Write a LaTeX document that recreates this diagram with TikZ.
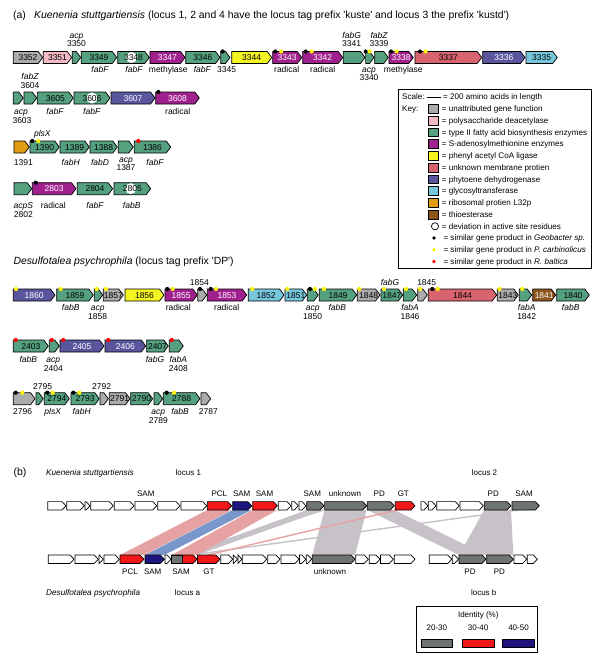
\documentclass[tikz,border=0pt]{standalone}
\usepackage{fontspec}
\setmainfont{Liberation Sans}
\usetikzlibrary{backgrounds}

\definecolor{cgray}{HTML}{ABABAB}
\definecolor{cpink}{HTML}{F4B9C3}
\definecolor{cgreen}{HTML}{55A07F}
\definecolor{cmag}{HTML}{A0218E}
\definecolor{cyellow}{HTML}{F4F423}
\definecolor{csalmon}{HTML}{D8646F}
\definecolor{cslate}{HTML}{5A569E}
\definecolor{ccyan}{HTML}{76C7DC}
\definecolor{corange}{HTML}{E09C12}
\definecolor{cbrown}{HTML}{8C561D}
\definecolor{bgray}{HTML}{6D7472}
\definecolor{bred}{HTML}{F01818}
\definecolor{bnavy}{HTML}{1E167E}
\definecolor{bandpk}{HTML}{E6A2A2}
\definecolor{bandbl}{HTML}{7A97CC}
\definecolor{bandgr}{HTML}{C6C2C8}

% gene arrow: [text colour]{x0}{x1}{y}{fill}{name}{number}
\newcommand{\gh}{6}
\newcommand{\gtipmax}{4.5}
\newcommand{\gene}[7][black]{%
  \pgfmathsetmacro{\gtip}{min(\gtipmax,#3-#2)}%
  \draw[genebox,fill=#5] (#2,{#4-\gh}) -- ({#3-\gtip},{#4-\gh}) -- (#3,#4)
    -- ({#3-\gtip},{#4+\gh}) -- (#2,{#4+\gh}) -- cycle;
  \coordinate (#6-nw) at (#2,{#4-\gh});
  \coordinate (#6-ne) at (#3,{#4-\gh});
  \coordinate (#6-sw) at (#2,{#4+\gh});
  \coordinate (#6-se) at (#3,{#4+\gh});
  \node[gnum,text=#1] (#6) at ({(#2+#3)/2},#4) {#7};%
}
% similar gene product dot: {colour}{gene}{offset}
\newcommand{\spot}[3]{\fill[#1] ([xshift=#3pt]#2-nw) circle (2.1pt);}

\begin{document}
\begin{tikzpicture}[x=1pt,y=-1pt,
    genebox/.style={draw=black,line width=0.7pt},
    gnum/.style={inner sep=0pt,text height=6pt,text depth=0pt,font=\fontsize{8.5}{9}\selectfont},
    gtag/.style={gnum,font=\fontsize{8.5}{9}\selectfont\itshape},
    htitle/.style={inner sep=0pt,anchor=west,text height=7.4pt,text depth=0pt,font=\fontsize{10.4}{11}\selectfont},
    keytext/.style={inner sep=0pt,anchor=west,text height=5.8pt,text depth=0pt,font=\fontsize{8.1}{9}\selectfont},
    swatch/.style={draw=black,line width=0.6pt},
    blbl/.style={inner sep=0pt,text height=5.8pt,text depth=0pt,font=\fontsize{8}{9}\selectfont},
    bband/.style={draw=none},
    bline/.style={line width=1.4pt}]
\useasboundingbox (0,0) rectangle (600,661);

% ---------- (a) Kuenenia ----------
\node[htitle] (ta) at (13,15) {(a)};
\node[htitle] (tk) at (34,15) {\textit{Kuenenia stuttgartiensis} (locus 1, 2 and 4 have the locus tag prefix \textquotesingle kuste\textquotesingle\ and locus 3 the prefix \textquotesingle kustd\textquotesingle)};

% locus 1
\gene{13.3}{42.7}{57.5}{cgray}{g3352}{3352}
\gene{43.3}{71.7}{57.5}{cpink}{g3351}{3351}
\gene{72.3}{80.7}{57.5}{cgreen}{g3350}{}
\gene{81.3}{116.7}{57.5}{cgreen}{g3349}{3349}
\gene{117.7}{149.3}{57.5}{cgreen}{g3348}{}
\fill[white] ([xshift=-2pt]g3348) circle (5.5pt);
\node[gnum] (n3348) at (g3348) {3348};
\gene[white]{149.9}{185}{57.5}{cmag}{g3347}{3347}
\gene{185.7}{220}{57.5}{cgreen}{g3346}{3346}
\gene{220.7}{230}{57.5}{cgreen}{g3345}{}
\gene{231.7}{271.7}{57.5}{cyellow}{g3344}{3344}
\gene[white]{272.7}{301.7}{57.5}{cmag}{g3343}{3343}
\gene[white]{302.7}{342.7}{57.5}{cmag}{g3342}{3342}
\gene{343.3}{365}{57.5}{cgreen}{g3341}{}
\gene{365.6}{374}{57.5}{cgreen}{g3340}{}
\gene{374.7}{388.3}{57.5}{cgreen}{g3339}{}
\gene[white]{389}{413.3}{57.5}{cmag}{g3338}{3338}
\gene{415}{481.7}{57.5}{csalmon}{g3337}{3337}
\gene[white]{482.7}{525}{57.5}{cslate}{g3336}{3336}
\gene{526}{557.3}{57.5}{ccyan}{g3335}{3335}
\spot{black}{g3345}{2}
\spot{black}{g3343}{2.5} \spot{yellow}{g3343}{8.5}
\spot{black}{g3342}{3} \spot{yellow}{g3342}{9}
\spot{black}{g3340}{0} \spot{yellow}{g3340}{4}
\spot{black}{g3338}{2} \spot{yellow}{g3338}{7.5}
\spot{black}{g3337}{5} \spot{yellow}{g3337}{10.5}
\node[gtag] (a3350) at (76.5,36) {acp};
\node[gnum] (b3350) at (76.5,44) {3350};
\node[gtag] (a3349) at (100,70) {fabF};
\node[gtag] (a3348) at (134,70) {fabF};
\node[gnum] (a3347) at (168.3,70) {methylase};
\node[gtag] (a3346) at (202.3,70) {fabF};
\node[gnum] (a3345) at (226.7,70) {3345};
\node[gnum] (a3343) at (286.7,70) {radical};
\node[gnum] (a3342) at (322.7,70) {radical};
\node[gtag] (a3341) at (351.7,36) {fabG};
\node[gnum] (b3341) at (351.7,44) {3341};
\node[gtag] (a3339) at (379,36) {fabZ};
\node[gnum] (b3339) at (379,44) {3339};
\node[gtag] (a3340) at (369,70) {acp};
\node[gnum] (b3340) at (369,78) {3340};
\node[gnum] (a3338) at (403.3,70) {methylase};

% locus 2
\gene{13.3}{23.3}{98}{cgreen}{g3603}{}
\gene{24}{36.7}{98}{cgreen}{g3604}{}
\gene{37.3}{73.3}{98}{cgreen}{g3605}{3605}
\gene{74}{110}{98}{cgreen}{g3606}{}
\fill[white] (g3606) circle (5.5pt);
\node[gnum] (n3606) at (g3606) {3606};
\gene[white]{111}{155}{98}{cslate}{g3607}{3607}
\gene[white]{155.7}{199.3}{98}{cmag}{g3608}{3608}
\spot{black}{g3608}{2.6}
\node[gtag] (a3604) at (30,77) {fabZ};
\node[gnum] (b3604) at (30,85.5) {3604};
\node[gtag] (a3603) at (21,111.5) {acp};
\node[gnum] (b3603) at (22,120) {3603};
\node[gtag] (a3605) at (55,111.5) {fabF};
\node[gtag] (a3606) at (91.7,111.5) {fabF};
\node[gnum] (a3608) at (177.7,111.5) {radical};

% locus 3
\gene{14}{29.3}{147}{corange}{g1391}{}
\gene{30}{59.3}{147}{cgreen}{g1390}{1390}
\gene{60}{89.3}{147}{cgreen}{g1389}{1389}
\gene{90}{117.3}{147}{cgreen}{g1388}{1388}
\gene{118.3}{133.3}{147}{cgreen}{g1387}{}
\gene{134.3}{170.7}{147}{cgreen}{g1386}{1386}
\spot{black}{g1390}{2.3} \spot{yellow}{g1390}{8.3}
\spot{red}{g1386}{4}
\node[gtag] (a1390) at (42.3,133.5) {plsX};
\node[gnum] (a1391) at (23.3,162.5) {1391};
\node[gtag] (a1389) at (70.7,162.5) {fabH};
\node[gtag] (a1388) at (100,162.5) {fabD};
\node[gtag] (a1387) at (126,159.3) {acp};
\node[gnum] (b1387) at (126,167) {1387};
\node[gtag] (a1386) at (155,162.5) {fabF};

% locus 4
\gene{14}{31.7}{188.7}{cgreen}{g2802}{}
\gene[white]{32.3}{76}{188.7}{cmag}{g2803}{2803}
\gene{77.3}{112.7}{188.7}{cgreen}{g2804}{2804}
\gene{114}{150.7}{188.7}{cgreen}{g2805}{}
\fill[white] ([xshift=-1.5pt]g2805) circle (5.5pt);
\node[gnum] (n2805) at (g2805) {2805};
\spot{black}{g2803}{3.4}
\node[gtag] (a2802) at (23.3,205) {acpS};
\node[gnum] (b2802) at (23.3,214) {2802};
\node[gnum] (a2803) at (53.3,205) {radical};
\node[gtag] (a2804) at (95,205) {fabF};
\node[gtag] (a2805) at (131.7,205) {fabB};

% key
\draw[line width=0.7pt] (398.3,89.5) rectangle (591,268);
\node[keytext] (kscale) at (402,97) {Scale:};
\draw[line width=1pt] (427,97) -- (441,97);
\node[keytext] (kbar) at (443,97) {= 200 amino acids in length};
\node[keytext] (kkey) at (402,108.8) {Key:};
\foreach \yy/\cc/\ktxt [count=\i] in {108.8/cgray/unattributed gene function,
    120.5/cpink/polysaccharide deacetylase,
    132.3/cgreen/type II fatty acid biosynthesis enzymes,
    144/cmag/S-adenosylmethionine enzymes,
    155.8/cyellow/phenyl acetyl CoA ligase,
    167.5/csalmon/unknown membrane protien,
    179.3/cslate/phytoene dehydrogenase,
    191/ccyan/glycosyltransferase,
    202.8/corange/ribosomal protien L32p,
    214.5/cbrown/thioesterase}{
  \draw[swatch,fill=\cc] (428.3,\yy-4.4) rectangle (438.3,\yy+4.4);
  \node[keytext] (key\i) at (441.7,\yy) {= \ktxt};
}
\draw[line width=0.7pt,fill=white] (435,226.3) circle (3.6pt);
\node[keytext] (kdev) at (441.7,226.3) {= deviation in active site residues};
\fill[black] (434,238) circle (1.9pt);
\node[keytext] (kgeo) at (443.3,238) {= similar gene product in \textit{Geobacter sp.}};
\fill[yellow] (434,249.8) circle (1.9pt);
\node[keytext] (kpel) at (443.3,249.8) {= similar gene product in \textit{P. carbinolicus}};
\fill[red] (434,261.5) circle (1.9pt);
\node[keytext] (krho) at (443.3,261.5) {= similar gene product in \textit{R. baltica}};

% ---------- Desulfotalea ----------
\node[htitle] (td) at (13.3,260.7) {\textit{Desulfotalea psychrophila} (locus tag prefix \textquotesingle DP\textquotesingle)};

\gene[white]{13.3}{55}{295}{cslate}{g1860}{1860}
\gene{56.7}{93.3}{295}{cgreen}{g1859}{1859}
\gene{94.3}{102.7}{295}{cgreen}{g1858}{}
\gene{103.3}{123.3}{295}{cgray}{g1857}{1857}
\gene{125}{164}{295}{cyellow}{g1856}{1856}
\gene[white]{165}{197.3}{295}{cmag}{g1855}{1855}
\gene{197.8}{206.7}{295}{cgray}{g1854}{}
\gene[white]{207.3}{246.7}{295}{cmag}{g1853}{1853}
\gene{248.3}{284}{295}{ccyan}{g1852}{1852}
\gene{285}{306.7}{295}{ccyan}{g1851}{1851}
\gene{307.3}{318.3}{295}{cgreen}{g1850}{}
\gene{319.3}{356.7}{295}{cgreen}{g1849}{1849}
\gene{357.3}{380}{295}{cgray}{g1848}{1848}
\gene{381}{402.7}{295}{cgreen}{g1847}{1847}
\gene{403.3}{416.7}{295}{cgreen}{g1846}{}
\gene{417.7}{427.3}{295}{cgray}{g1845}{}
\gene{428.3}{496.7}{295}{csalmon}{g1844}{1844}
\gene{497.3}{518.3}{295}{cgray}{g1843}{1843}
\gene{519.3}{531.7}{295}{cgreen}{g1842}{}
\gene[white]{532.7}{555.7}{295}{cbrown}{g1841}{1841}
\gene{556.7}{589.3}{295}{cgreen}{g1840}{1840}
\spot{yellow}{g1860}{2.7}
\spot{yellow}{g1859}{4}
\spot{yellow}{g1858}{2.4}
\spot{yellow}{g1857}{2.7}
\spot{black}{g1855}{2.3} \spot{yellow}{g1855}{7.7}
\spot{black}{g1854}{2.2}
\spot{black}{g1853}{3.4} \spot{yellow}{g1853}{8.7}
\spot{yellow}{g1852}{4}
\spot{yellow}{g1851}{2.3}
\spot{black}{g1850}{2.7} \spot{yellow}{g1850}{7.7}
\spot{yellow}{g1849}{4.7}
\spot{yellow}{g1848}{2}
\spot{yellow}{g1847}{3}
\spot{yellow}{g1846}{2.7}
\spot{yellow}{g1845}{2.3}
\spot{black}{g1844}{4} \spot{yellow}{g1844}{9.4}
\spot{yellow}{g1843}{2.2}
\spot{yellow}{g1842}{3}
\node[gtag] (a1859) at (70.7,307.5) {fabB};
\node[gtag] (a1858) at (97.7,307.5) {acp};
\node[gnum] (b1858) at (97.7,316.7) {1858};
\node[gnum] (a1855) at (178.3,307.5) {radical};
\node[gnum] (a1854) at (199.3,282) {1854};
\node[gnum] (a1853) at (226.7,307.5) {radical};
\node[gtag] (a1850) at (312.7,307.5) {acp};
\node[gnum] (b1850) at (312.7,316.7) {1850};
\node[gtag] (a1849) at (337.3,307.5) {fabB};
\node[gtag] (a1847) at (390,282) {fabG};
\node[gtag] (a1846) at (410,307.5) {fabA};
\node[gnum] (b1846) at (410,316.7) {1846};
\node[gnum] (a1845) at (426.7,282) {1845};
\node[gtag] (a1842) at (526.7,307.5) {fabA};
\node[gnum] (b1842) at (526.7,316.7) {1842};
\node[gtag] (a1840) at (570.7,307.5) {fabB};

\gene{13.3}{48.3}{346}{cgreen}{g2403}{2403}
\gene{49.3}{59.3}{346}{cgreen}{g2404}{}
\gene[white]{60}{104}{346}{cslate}{g2405}{2405}
\gene[white]{105}{145.7}{346}{cslate}{g2406}{2406}
\gene{146.7}{168.3}{346}{cgreen}{g2407}{2407}
\gene{169.3}{183.3}{346}{cgreen}{g2408}{}
\spot{red}{g2403}{2.4}
\spot{red}{g2404}{2.4}
\spot{red}{g2405}{3.3}
\spot{red}{g2406}{3.3}
\spot{red}{g2408}{2.4}
\node[gtag] (a2403) at (28.3,359) {fabB};
\node[gtag] (a2404) at (53.3,359) {acp};
\node[gnum] (b2404) at (53.3,368.3) {2404};
\node[gtag] (a2407) at (155,359) {fabG};
\node[gtag] (a2408) at (178.3,359) {fabA};
\node[gnum] (b2408) at (178.3,368.3) {2408};

\gene{13.3}{35}{398.7}{cgray}{g2796}{}
\gene{36}{43.3}{398.7}{cgreen}{g2795}{}
\gene{44.3}{69.3}{398.7}{cgreen}{g2794}{2794}
\gene{71}{99.3}{398.7}{cgreen}{g2793}{2793}
\gene{100}{108.3}{398.7}{cgray}{g2792}{}
\gene{109.3}{130}{398.7}{cgray}{g2791}{2791}
\gene{130.7}{152.7}{398.7}{cgreen}{g2790}{2790}
\gene{154}{162.7}{398.7}{cgreen}{g2789}{}
\gene{163.3}{200}{398.7}{cgreen}{g2788}{2788}
\gene{201}{210.7}{398.7}{cgray}{g2787}{}
\spot{black}{g2796}{2.4} \spot{yellow}{g2796}{9}
\spot{black}{g2794}{3} \spot{yellow}{g2794}{8.4}
\spot{black}{g2793}{2.3} \spot{yellow}{g2793}{8.3}
\spot{black}{g2788}{3.4} \spot{yellow}{g2788}{10.7}
\node[gnum] (a2795) at (42.7,386) {2795};
\node[gnum] (a2792) at (101.7,386) {2792};
\node[gnum] (a2796) at (22.7,411.7) {2796};
\node[gtag] (a2794) at (52.7,411.7) {plsX};
\node[gtag] (a2793) at (81.7,411.7) {fabH};
\node[gtag] (a2789) at (158.3,411.7) {acp};
\node[gnum] (b2789) at (158.3,420.5) {2789};
\node[gtag] (a2788) at (180,411.7) {fabB};
\node[gnum] (a2787) at (208.3,411.7) {2787};

% ---------- (b) ----------
\renewcommand{\gh}{4.2}
\renewcommand{\gtipmax}{4}
\node[inner sep=0pt,font=\fontsize{10.5}{11}\selectfont] (tb) at (20,472.7) {(b)};
\node[blbl,anchor=west,font=\fontsize{8.2}{9}\selectfont\itshape] (bk) at (46,472.7) {Kuenenia stuttgartiensis};
\node[blbl,font=\fontsize{8}{9}\selectfont] (bl1) at (188.3,472.7) {locus 1};
\node[blbl,font=\fontsize{8}{9}\selectfont] (bl2) at (484.5,472.7) {locus 2};

\foreach \a/\b [count=\i] in {47.7/66, 66.7/84.3, 85/90, 90.7/113.3, 114.3/134,
    135/156.7, 157.7/180, 181/206.7, 278.3/291, 291.7/298.3, 299/306,
    421/428, 428.3/436, 436.7/459.3, 460/483.3}
  {\gene{\a}{\b}{505.8}{white}{tw\i}{}}
\gene{207.3}{231.7}{505.8}{bred}{tPCL}{}
\gene{232.7}{251.7}{505.8}{bnavy}{tSAMb}{}
\gene{252.7}{277.3}{505.8}{bred}{tSAMr}{}
\gene{306.7}{324}{505.8}{bgray}{tSAMg}{}
\gene{324.6}{366.7}{505.8}{bgray}{tUnk}{}
\gene{367.3}{394.3}{505.8}{bgray}{tPDa}{}
\gene{395.3}{415}{505.8}{bred}{tGT}{}
\gene{484.3}{511}{505.8}{bgray}{tPDb}{}
\gene{512}{539.3}{505.8}{bgray}{tSAMc}{}

\foreach \a/\b [count=\i] in {48.3/74, 75/98.3, 99/103.3, 104/119.3, 165/171,
    220.7/232.7, 233.3/237.5, 238/241.8, 242.3/266.7, 267.7/280, 281/299,
    299.5/305.8, 306.3/311.7, 355.7/368.3, 369.3/380, 380.5/393.3, 394.3/415,
    429.3/451.7, 452.2/458.5, 514/526.7, 527.3/537.3}
  {\gene{\a}{\b}{559.2}{white}{bw\i}{}}
\gene{120}{144}{559.2}{bred}{bPCL}{}
\gene{145}{164.3}{559.2}{bnavy}{bSAMb}{}
\gene{171.7}{197}{559.2}{bred}{bSAM}{}
\draw[genebox,fill=bgray] (bSAM-nw) rectangle ([xshift=11pt]bSAM-sw);
\gene{197.5}{220}{559.2}{bred}{bGT}{}
\gene{312.3}{355}{559.2}{bgray}{bUnk}{}
\gene{459}{486}{559.2}{bgray}{bPDa}{}
\gene{486.7}{513.3}{559.2}{bgray}{bPDb}{}

% matches
\begin{pgfonlayer}{background}
\fill[bandgr] (tSAMg-sw) -- (tSAMg-se) -- (bSAM-ne) -- ([xshift=11pt]bSAM-nw) -- cycle;
\draw[bline,bandgr] (tSAMg-se) -- ([xshift=4pt]bSAM-nw);
\draw[bline,bandgr] ([xshift=6pt]tSAMc-sw) -- ([xshift=19pt]bSAM-nw);
\fill[bandgr] (tUnk-sw) -- (tUnk-se) -- (bUnk-ne) -- (bUnk-nw) -- cycle;
\fill[bandgr] (tPDa-sw) -- (tPDa-se) -- (bPDa-ne) -- (bPDa-nw) -- cycle;
\fill[bandgr] (tPDb-sw) -- (tPDb-se) -- (bPDa-ne) -- (bPDa-nw) -- cycle;
\fill[bandgr] (tPDb-sw) -- (tPDb-se) -- (bPDb-ne) -- (bPDb-nw) -- cycle;
\fill[bandpk] (tPCL-sw) -- (tPCL-se) -- (bPCL-ne) -- (bPCL-nw) -- cycle;
\fill[bandbl] (tSAMb-sw) -- (tSAMb-se) -- (bSAMb-ne) -- (bSAMb-nw) -- cycle;
\fill[bandpk] (tSAMr-sw) -- (tSAMr-se) -- (bSAM-ne) -- (bSAM-nw) -- cycle;
\draw[bline,bandpk] ([xshift=1.5pt]tGT-sw) -- ([xshift=10pt]bGT-nw);
\end{pgfonlayer}

\node[blbl] (s1) at (145.8,493.3) {SAM};
\node[blbl] (s2) at (219.3,493.3) {PCL};
\node[blbl] (s3) at (241.7,493.3) {SAM};
\node[blbl] (s4) at (264.5,493.3) {SAM};
\node[blbl] (s5) at (312.3,493.3) {SAM};
\node[blbl] (s6) at (345,493.3) {unknown};
\node[blbl] (s7) at (379.3,493.3) {PD};
\node[blbl] (s8) at (403.3,493.3) {GT};
\node[blbl] (s9) at (493.3,493.3) {PD};
\node[blbl] (s10) at (524,493.3) {SAM};
\node[blbl] (u1) at (130,571.7) {PCL};
\node[blbl] (u2) at (152.7,571.7) {SAM};
\node[blbl] (u3) at (181,571.7) {SAM};
\node[blbl] (u4) at (209,571.7) {GT};
\node[blbl] (u5) at (330,571.7) {unknown};
\node[blbl] (u6) at (470,571.7) {PD};
\node[blbl] (u7) at (499.3,571.7) {PD};

\node[blbl,anchor=west,font=\fontsize{8.2}{9}\selectfont\itshape] (bd) at (46,592.3) {Desulfotalea psychrophila};
\node[blbl,font=\fontsize{8}{9}\selectfont] (bla) at (187.5,592.3) {locus a};
\node[blbl,font=\fontsize{8}{9}\selectfont] (blb) at (483.7,592.3) {locus b};

% identity key
\draw[line width=0.8pt] (416,606.7) rectangle (537.7,652.7);
\node[blbl] (idt) at (478.3,615) {Identity (\%)};
\node[blbl] (id1) at (436.8,627.7) {20-30};
\node[blbl] (id2) at (478.1,627.7) {30-40};
\node[blbl] (id3) at (518.5,627.7) {40-50};
\draw[swatch,fill=bgray] (421,639) rectangle (452.7,647.7);
\draw[swatch,fill=bred] (462.3,639) rectangle (494,647.7);
\draw[swatch,fill=bnavy] (502.7,639) rectangle (534.3,647.7);
\end{tikzpicture}
\end{document}
